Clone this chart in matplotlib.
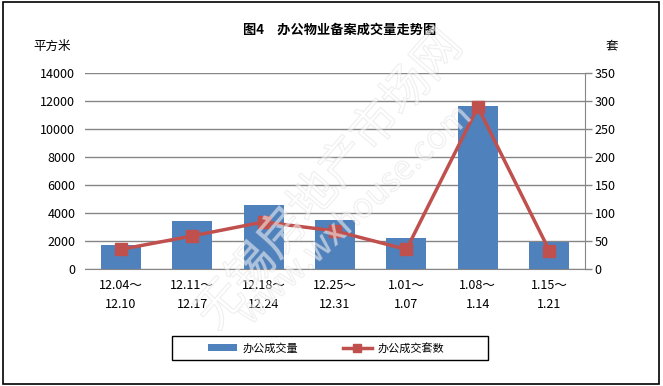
import matplotlib.pyplot as plt
import matplotlib.patheffects as pe
from matplotlib.patches import Rectangle

plt.rcParams['font.family'] = ['Noto Sans CJK SC', 'DejaVu Sans']

# data
weeks = ['12.04～\n12.10', '12.11～\n12.17', '12.18～\n12.24', '12.25～\n12.31',
         '1.01～\n1.07', '1.08～\n1.14', '1.15～\n1.21']
area = [1700, 3400, 4570, 3500, 2180, 11650, 1920]     # 平方米
units = [35, 59, 84, 68, 35, 289, 33]                    # 套

bar_color = '#4F81BD'
line_color = '#C0504D'
grid_color = '#868686'

W, H = 663, 386
fig = plt.figure(figsize=(W / 100, H / 100), dpi=100)

# outer frame
fig.patches.append(Rectangle((0.004, 0.006), 0.99, 0.99, transform=fig.transFigure,
                             fill=False, edgecolor='black', linewidth=1.2))

ax = fig.add_axes([85 / W, 1 - 269 / H, 500 / W, 196 / H])
x = range(len(weeks))
ax.bar(x, area, width=0.56, color=bar_color, zorder=2, label='办公成交量')
ax.set_xlim(-0.5, len(weeks) - 0.5)
ax.set_ylim(0, 14000)
ax.set_yticks(range(0, 14001, 2000))
ax.grid(axis='y', color=grid_color, linewidth=1, zorder=0)
ax.set_xticks(list(x))
ax.set_xticklabels(weeks, fontsize=9, linespacing=1.6)
ax.tick_params(axis='x', length=0, pad=7)
ax.tick_params(axis='y', length=0, pad=7, labelsize=9)
for s in ['left', 'top', 'right']:
    ax.spines[s].set_visible(False)
ax.spines['bottom'].set_color(grid_color)

ax2 = ax.twinx()
ax2.plot(x, units, color=line_color, linewidth=2.5, marker='s', markersize=8,
         zorder=3, label='办公成交套数')
ax2.set_ylim(0, 350)
ax2.set_yticks(range(0, 351, 50))
ax2.tick_params(axis='y', length=5, width=1, color=grid_color, pad=2, labelsize=9)
for s in ['left', 'top', 'bottom']:
    ax2.spines[s].set_visible(False)
ax2.spines['right'].set_color(grid_color)

fig.text(340 / W, 1 - 30 / H, '图4　办公物业备案成交量走势图', ha='center', va='center',
         fontsize=9.5, fontweight='bold')
fig.text(52 / W, 1 - 46 / H, '平方米', ha='center', va='center', fontsize=9)
fig.text(612 / W, 1 - 46 / H, '套', ha='center', va='center', fontsize=9)

# legend with its own box
fig.patches.append(Rectangle((172 / W, 1 - 360 / H), 316 / W, 24 / H,
                             transform=fig.transFigure, fill=False,
                             edgecolor='black', linewidth=1))
h1, l1 = ax.get_legend_handles_labels()
h2, l2 = ax2.get_legend_handles_labels()
fig.legend(h1 + h2, l1 + l2, loc='center', ncol=2,
           bbox_to_anchor=(326 / W, 1 - 348 / H), fontsize=8,
           frameon=False, handlelength=2.6, markerscale=0.75,
           columnspacing=4.0, handletextpad=0.5)

# watermark
stroke = [pe.withStroke(linewidth=0.9, foreground='#c8c8c8')]
fig.text(330 / W, 1 - 180 / H, '无锡房地产市场网', ha='center', va='center',
         rotation=49, fontsize=34, color='white', alpha=0.3,
         path_effects=stroke, zorder=10)
fig.text(355 / W, 1 - 215 / H, 'www.wxhouse.com', ha='center', va='center',
         rotation=43, fontsize=24, color='white', alpha=0.3,
         path_effects=stroke, zorder=10)

fig.savefig('out.png', dpi=100)
